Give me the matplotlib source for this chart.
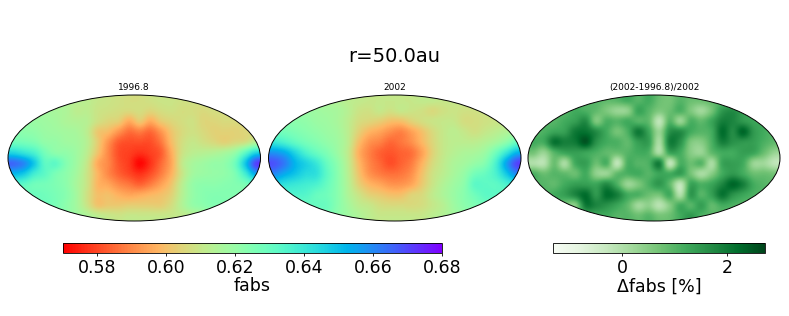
import numpy as np
from matplotlib import pyplot as plt
from matplotlib.patches import Ellipse

# map values, 12 rows x 24 columns, top row first
# fabs in thousandths
fabs_1996 = [
    [617, 617, 617, 616, 615, 614, 613, 612, 610, 609, 608, 607, 607, 608, 609, 609, 608, 608, 608, 609, 610, 612, 613, 614],
    [618, 618, 618, 617, 616, 615, 612, 612, 609, 608, 607, 606, 607, 605, 607, 608, 607, 607, 606, 607, 607, 608, 609, 610],
    [620, 620, 619, 618, 617, 615, 614, 613, 608, 605, 603, 596, 602, 596, 602, 605, 607, 608, 605, 605, 606, 606, 607, 608],
    [623, 622, 621, 619, 618, 617, 616, 612, 602, 599, 592, 586, 588, 585, 592, 601, 606, 608, 606, 604, 604, 604, 605, 606],
    [628, 627, 625, 621, 620, 618, 617, 613, 603, 592, 583, 581, 581, 581, 587, 599, 607, 610, 608, 606, 604, 606, 608, 614],
    [645, 641, 636, 627, 622, 621, 618, 612, 601, 590, 581, 579, 577, 579, 583, 596, 608, 612, 613, 614, 616, 620, 632, 645],
    [665, 660, 648, 632, 632, 624, 618, 610, 596, 590, 582, 578, 571, 577, 585, 595, 610, 616, 618, 620, 621, 628, 648, 670],
    [652, 648, 638, 632, 626, 622, 617, 609, 598, 590, 584, 580, 577, 581, 588, 597, 609, 617, 619, 620, 621, 625, 638, 655],
    [635, 632, 628, 627, 625, 622, 616, 609, 598, 595, 590, 587, 584, 588, 594, 601, 612, 620, 622, 622, 623, 624, 626, 632],
    [628, 628, 629, 628, 626, 623, 617, 608, 600, 600, 597, 595, 596, 598, 600, 604, 613, 620, 623, 624, 624, 624, 624, 626],
    [626, 626, 627, 628, 626, 622, 617, 609, 601, 602, 602, 603, 603, 603, 603, 607, 614, 620, 622, 624, 624, 624, 624, 625],
    [624, 624, 624, 624, 624, 622, 618, 615, 612, 610, 609, 610, 610, 610, 610, 610, 611, 613, 616, 620, 622, 622, 622, 622],
]
fabs_2002 = [
    [620, 620, 619, 618, 617, 615, 614, 612, 611, 610, 610, 610, 610, 610, 611, 611, 610, 610, 610, 611, 612, 614, 615, 616],
    [621, 621, 620, 619, 618, 617, 616, 613, 609, 608, 610, 608, 610, 609, 608, 606, 608, 609, 608, 608, 609, 610, 611, 612],
    [623, 623, 622, 621, 619, 618, 616, 612, 607, 605, 603, 600, 600, 604, 607, 609, 610, 610, 607, 607, 608, 609, 610, 612],
    [628, 627, 625, 623, 621, 619, 617, 612, 604, 598, 595, 591, 589, 594, 600, 606, 610, 612, 610, 608, 610, 612, 614, 616],
    [640, 636, 631, 627, 624, 621, 618, 612, 600, 592, 589, 585, 587, 591, 598, 605, 610, 612, 612, 612, 614, 617, 622, 630],
    [658, 654, 645, 636, 630, 625, 619, 611, 597, 589, 584, 582, 584, 586, 594, 604, 610, 613, 615, 616, 619, 628, 640, 652],
    [668, 662, 652, 646, 640, 630, 622, 612, 599, 590, 585, 581, 584, 588, 597, 606, 611, 615, 617, 620, 624, 636, 655, 670],
    [660, 654, 649, 644, 642, 632, 623, 613, 601, 592, 588, 586, 587, 591, 600, 608, 612, 616, 620, 627, 630, 636, 648, 660],
    [645, 642, 640, 638, 636, 630, 623, 614, 604, 598, 595, 592, 592, 595, 602, 609, 614, 618, 622, 632, 632, 632, 636, 642],
    [636, 635, 635, 634, 630, 628, 623, 615, 609, 604, 602, 600, 600, 604, 606, 611, 615, 619, 623, 628, 632, 632, 631, 632],
    [630, 630, 630, 630, 630, 629, 623, 617, 612, 610, 607, 606, 606, 606, 607, 610, 613, 618, 622, 625, 628, 629, 629, 629],
    [628, 628, 628, 628, 628, 627, 622, 618, 615, 612, 610, 610, 610, 610, 610, 612, 614, 617, 620, 623, 625, 626, 626, 626],
]
# difference in tenths of a percent
dfabs = [
    [10, 10, 10, 10, 10, 10, 10, 9, 10, 12, 10, 12, 8, 7, 10, 8, 8, 9, 10, 10, 10, 10, 10, 10],
    [10, 10, 10, 10, 12, 11, 9, 6, 3, 4, 13, 10, 6, 8, 11, 6, 2, 7, 15, 17, 14, 12, 11, 10],
    [10, 10, 10, 12, 14, 17, 6, 11, 10, 12, 10, 9, -2, 10, 3, 11, 9, 13, 19, 18, 15, 13, 12, 10],
    [10, 11, 13, 14, 20, 21, 17, 12, 7, 11, 20, 13, 3, 16, 17, 12, 10, 12, 22, 17, 23, 15, 12, 10],
    [12, 12, 21, 19, 20, 25, 16, 12, 11, 9, 14, 14, 1, 19, 16, 6, 5, 11, 19, 16, 15, 14, 11, 9],
    [7, 3, 10, 13, 14, 13, 11, 9, 8, 10, 12, 11, 1, 13, 12, 5, 3, 9, 12, 12, 14, 13, 8, 3],
    [0, -1, 8, 1, 12, 14, 8, 11, -2, 11, 10, 11, 19, -2, 11, 8, 10, 1, 13, 14, 12, 3, 2, -2],
    [11, 8, 10, 9, 8, 12, 4, 3, 9, 11, 12, 10, 13, 12, 14, 7, 1, 5, 12, 15, 12, 8, 8, 7],
    [10, 10, 9, 12, 14, 14, 13, 17, 11, 3, 6, 11, 15, 9, -2, 13, 11, 13, 18, 23, 19, 12, 10, 9],
    [10, 10, 12, 14, 18, 22, 15, 22, 19, 12, 11, 8, 7, 12, 0, 15, 10, 14, 21, 16, 13, 11, 10, 10],
    [10, 10, 11, 7, 5, 20, 18, 16, 13, 9, 2, 4, -1, 5, 12, 10, 14, 9, 12, 11, 10, 10, 10, 10],
    [10, 10, 10, 10, 10, 12, 12, 12, 10, 10, 8, 10, 7, 8, 12, 15, 11, 10, 10, 10, 10, 10, 10, 10],
]
panel_titles = ['1996.8', '2002', '(2002-1996.8)/2002']
fabs_ticks = [0.58, 0.60, 0.62, 0.64, 0.66, 0.68]
dfabs_ticks = [0, 2]

W, H = 789., 316.


def px_axes(fig, x0, y0, x1, y1):
    # pixel box, y from the top of the picture
    return fig.add_axes([x0 / W, 1 - y1 / H, (x1 - x0) / W, (y1 - y0) / H])


def draw_map(fig, box, values, title, cmap, vmin, vmax):
    ax = px_axes(fig, *box)
    im = ax.imshow(values, cmap=cmap, vmin=vmin, vmax=vmax, extent=[-2, 2, -1, 1],
                   aspect='auto', interpolation='catrom')
    outline = Ellipse((0, 0), 4, 2, fc='none', ec='black', lw=0.7, transform=ax.transData)
    ax.add_patch(outline)
    im.set_clip_path(outline)
    outline.set_clip_on(False)
    ax.axis('off')
    ax.text(0.5, 1.02, title, transform=ax.transAxes, ha='center', va='bottom', fontsize=6.5)
    return im


def draw_bar(fig, box, im, ticks, labels, label):
    cax = px_axes(fig, *box)
    cb = fig.colorbar(im, cax=cax, orientation='horizontal')
    cb.set_ticks(ticks)
    cb.set_ticklabels(labels)
    cb.ax.tick_params(labelsize=12.5, length=2.5, width=0.6, pad=1.5)
    cb.outline.set_linewidth(0.6)
    cb.set_label(label, fontsize=12.5, labelpad=0.5)


fig = plt.figure(figsize=(W / 100, H / 100), dpi=100)

im1 = draw_map(fig, (8, 95, 260.5, 221), np.array(fabs_1996) / 1000., panel_titles[0], 'rainbow_r', 0.57, 0.68)
im2 = draw_map(fig, (268.5, 95, 521, 221), np.array(fabs_2002) / 1000., panel_titles[1], 'rainbow_r', 0.57, 0.68)
im3 = draw_map(fig, (528, 95, 780, 221), np.array(dfabs) / 10., panel_titles[2], 'Greens', -1.31, 2.72)

draw_bar(fig, (63, 243, 442, 253), im1, fabs_ticks, ['%.2f' % t for t in fabs_ticks], 'fabs')
draw_bar(fig, (553, 243, 765, 253), im3, dfabs_ticks, ['%d' % t for t in dfabs_ticks], '\u0394fabs [%]')

fig.text(394.5 / W, 1 - 57 / H, 'r=50.0au', ha='center', va='center', fontsize=14)

plt.savefig('out.png', dpi=100)
plt.close()
